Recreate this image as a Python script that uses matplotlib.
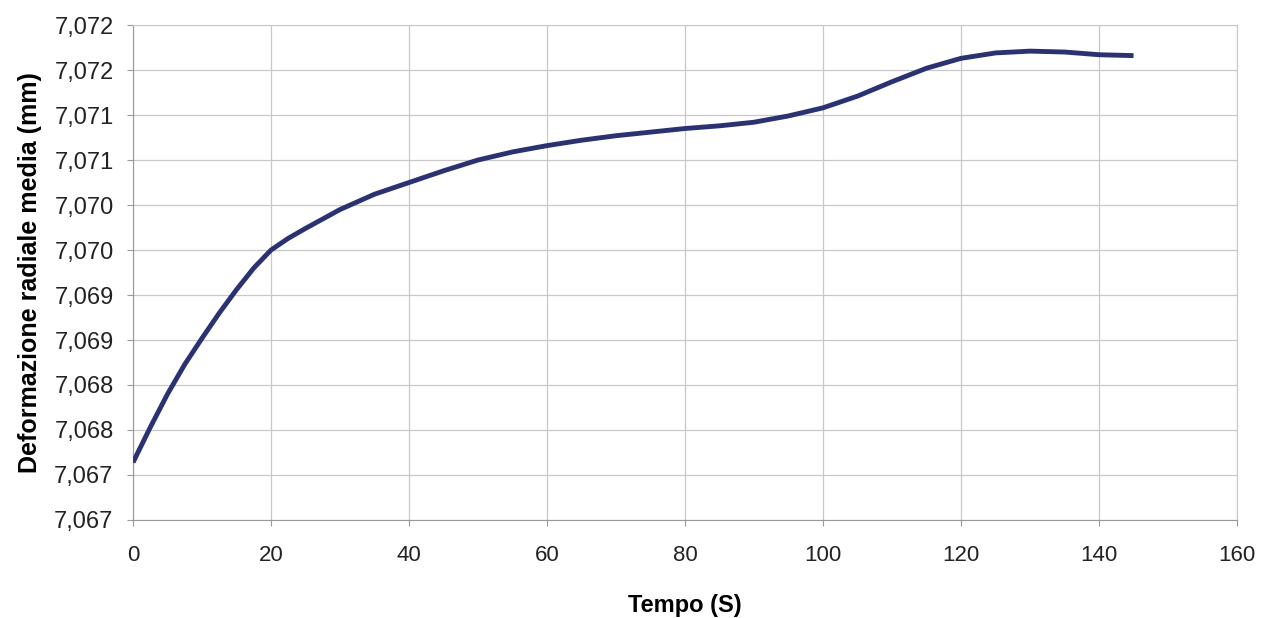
import matplotlib.pyplot as plt

plt.rcParams['font.family'] = ['Liberation Sans', 'DejaVu Sans']

# tempo (s) and mean radial deformation (mm)
tempo = [0, 2.5, 5, 7.5, 10, 12.5, 15, 17.5, 20, 22.5, 25, 30, 35, 40, 45,
         50, 55, 60, 65, 70, 75, 80, 85, 90, 95, 100, 105, 110, 115, 120,
         125, 130, 135, 140, 145]
deformazione = [7.06714, 7.06753, 7.06790, 7.06823, 7.06852, 7.06880,
                7.06906, 7.06930, 7.06950, 7.06963, 7.06974, 7.06995,
                7.07012, 7.07025, 7.07038, 7.07050, 7.07059, 7.07066,
                7.07072, 7.07077, 7.07081, 7.07085, 7.07088, 7.07092,
                7.07099, 7.07108, 7.07121, 7.07137, 7.07152, 7.07163,
                7.07169, 7.07171, 7.07170, 7.07167, 7.07166]

x_ticks = [0, 20, 40, 60, 80, 100, 120, 140, 160]
y_ticks = [7.0665, 7.0670, 7.0675, 7.0680, 7.0685, 7.0690,
           7.0695, 7.0700, 7.0705, 7.0710, 7.0715, 7.0720]
y_tick_labels = ['7,067', '7,067', '7,068', '7,068', '7,069', '7,069',
                 '7,070', '7,070', '7,071', '7,071', '7,072', '7,072']

fig = plt.figure(figsize=(12.61, 6.18), dpi=100)
ax = fig.add_axes([0.1055, 0.1586, 0.8755, 0.8009])

ax.plot(tempo, deformazione, color='#2b3272', linewidth=3.5,
        solid_capstyle='butt', solid_joinstyle='round', zorder=3)

ax.set_xlim(0, 160)
ax.set_ylim(7.0665, 7.0720)
ax.set_xticks(x_ticks)
ax.set_yticks(y_ticks)
ax.set_yticklabels(y_tick_labels)

ax.grid(True, color='#c8c8c8', linewidth=0.9)
ax.set_axisbelow(True)
for s in ax.spines.values():
    s.set_color('#c8c8c8')
ax.spines['left'].set_color('#999999')
ax.spines['bottom'].set_color('#999999')
ax.tick_params(axis='both', direction='out', length=4, color='#999999',
               labelcolor='#222222')
ax.tick_params(axis='x', pad=14, labelsize=16)
ax.tick_params(axis='y', pad=10, labelsize=17)

ax.set_xlabel('Tempo (S)', fontsize=17, fontweight='bold', labelpad=20)
ax.set_ylabel('Deformazione radiale media (mm)', fontsize=18,
              fontweight='bold', labelpad=9)

fig.savefig('out.png', dpi=100)
